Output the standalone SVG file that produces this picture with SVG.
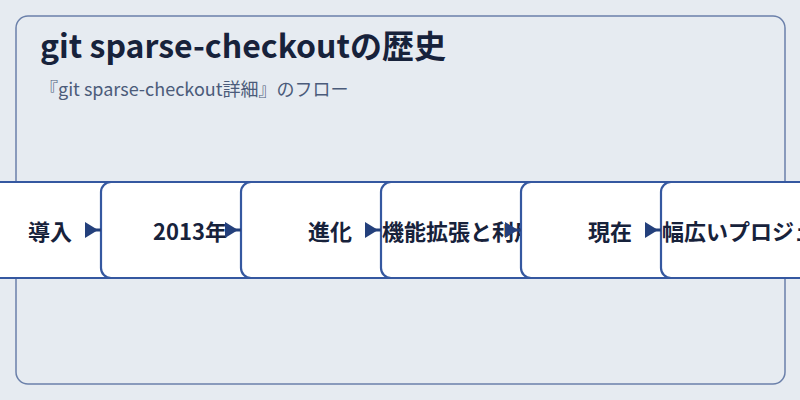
<svg xmlns="http://www.w3.org/2000/svg" width="800" height="400" viewBox="0 0 800 400">
<defs>
<style>
.bg{fill:#e6ebf1}
.panel{fill:#e6ebf1;stroke:#6b80aa;stroke-width:1.5}
.box{fill:#ffffff;stroke:#3558a0;stroke-width:2.2}
.lbl{font-family:"Noto Sans CJK JP","Noto Sans",sans-serif;font-size:22px;font-weight:700;fill:#17223b;dominant-baseline:central}
.title{font-family:"Noto Sans CJK JP","Noto Sans",sans-serif;font-size:32px;font-weight:700;fill:#17223b}
.sub{font-family:"Noto Sans CJK JP","Noto Sans",sans-serif;font-size:18px;fill:#4b5b7a}
.conn{stroke:#24407c;stroke-width:3;fill:none}
.head{fill:#24407c}
</style>
<clipPath id="c4"><rect x="381" y="182" width="178" height="96"/></clipPath>
<clipPath id="c6"><rect x="661" y="182" width="178" height="96"/></clipPath>
</defs>
<rect class="bg" x="0" y="0" width="800" height="400"/>
<rect class="panel" x="16" y="16" width="769" height="368" rx="12"/>
<text class="title" x="40" y="58">git sparse-checkoutの歴史</text>
<text class="sub" x="40" y="96">『git sparse-checkout詳細』のフロー</text>
<g id="n1">
<rect class="box" x="-40" y="182" width="180" height="96" rx="10"/>
<text class="lbl" x="50" y="230" text-anchor="middle">導入</text>
</g>
<g id="n2">
<rect class="box" x="101" y="182" width="180" height="96" rx="10"/>
<text class="lbl" x="190" y="230" text-anchor="middle">2013年</text>
</g>
<g id="n3">
<rect class="box" x="241" y="182" width="180" height="96" rx="10"/>
<text class="lbl" x="330" y="230" text-anchor="middle">進化</text>
</g>
<g id="n4">
<rect class="box" x="381" y="182" width="180" height="96" rx="10"/>
<text class="lbl" x="382" y="230" clip-path="url(#c4)">機能拡張と利用拡大</text>
</g>
<g id="n5">
<rect class="box" x="521" y="182" width="180" height="96" rx="10"/>
<text class="lbl" x="610" y="230" text-anchor="middle">現在</text>
</g>
<g id="n6">
<rect class="box" x="661" y="182" width="180" height="96" rx="10"/>
<text class="lbl" x="662" y="230" clip-path="url(#c6)">幅広いプロジェクトで活用</text>
</g>
<g id="connectors">
<path class="conn" d="M86,230 H101"/><path class="head" d="M85,222 L98,230 L85,238 Z"/>
<path class="conn" d="M226,230 H241"/><path class="head" d="M225,222 L238,230 L225,238 Z"/>
<path class="conn" d="M366,230 H381"/><path class="head" d="M365,222 L378,230 L365,238 Z"/>
<path class="conn" d="M506,230 H521"/><path class="head" d="M505,222 L518,230 L505,238 Z"/>
<path class="conn" d="M646,230 H661"/><path class="head" d="M645,222 L658,230 L645,238 Z"/>
</g>
</svg>
